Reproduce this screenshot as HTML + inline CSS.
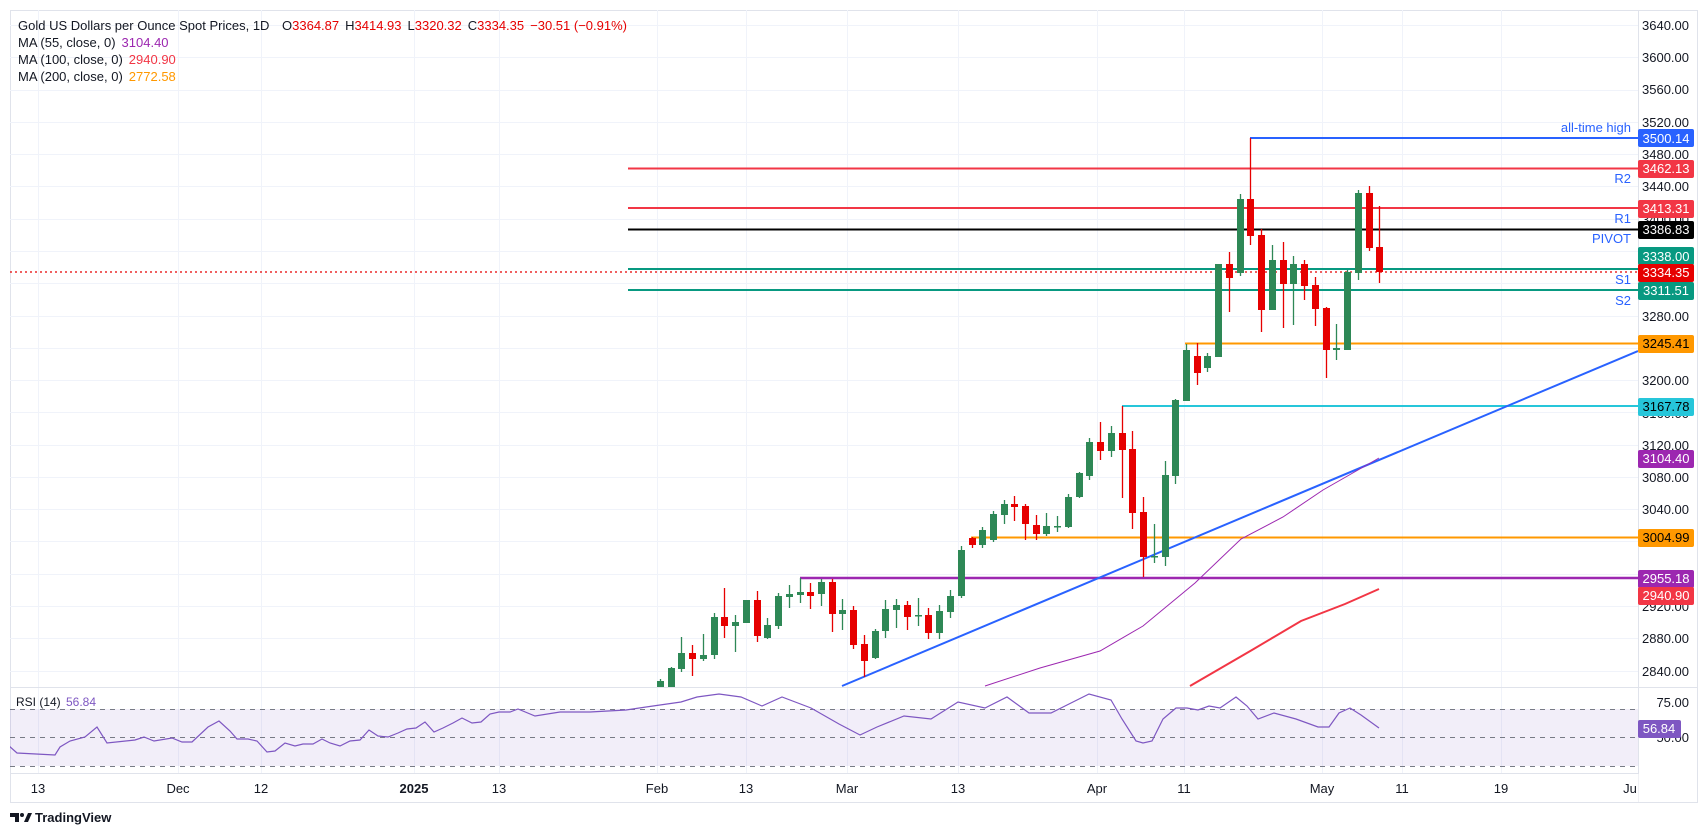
<!DOCTYPE html>
<html><head><meta charset="utf-8"><style>
html,body{margin:0;padding:0;background:#fff;width:1708px;height:837px;overflow:hidden;font-family:"Liberation Sans",sans-serif;}
svg text{font-family:"Liberation Sans",sans-serif;}
</style></head><body>
<svg width="1708" height="837" xmlns="http://www.w3.org/2000/svg">
<defs>
<clipPath id="mp"><rect x="10" y="10" width="1628" height="677"/></clipPath>
<clipPath id="rp"><rect x="10" y="687" width="1628" height="86"/></clipPath>
</defs>
<rect x="10.5" y="10.5" width="1687" height="792" fill="#fff" stroke="#e0e3eb"/>
<g stroke="#f0f3fa" stroke-width="1">
<path d="M10 25.5H1638M10 57.5H1638M10 90.5H1638M10 122.5H1638M10 154.5H1638M10 186.5H1638M10 219.5H1638M10 251.5H1638M10 283.5H1638M10 316.5H1638M10 348.5H1638M10 380.5H1638M10 412.5H1638M10 445.5H1638M10 477.5H1638M10 509.5H1638M10 541.5H1638M10 574.5H1638M10 606.5H1638M10 638.5H1638M10 671.5H1638"/>
<path d="M38.5 10V773M178.5 10V773M261.5 10V773M414.5 10V773M499.5 10V773M657.5 10V773M746.5 10V773M847.5 10V773M958.5 10V773M1097.5 10V773M1184.5 10V773M1322.5 10V773M1402.5 10V773M1501.5 10V773"/>
</g>
<line x1="10" y1="687.5" x2="1697" y2="687.5" stroke="#e0e3eb"/>
<line x1="1638.5" y1="10" x2="1638.5" y2="802" stroke="#e0e3eb"/>
<line x1="10" y1="773.5" x2="1638" y2="773.5" stroke="#e0e3eb"/>
<g clip-path="url(#mp)">
<line x1="1250" y1="138" x2="1638" y2="138" stroke="#2962ff" stroke-width="2"/>
<line x1="628" y1="168.5" x2="1638" y2="168.5" stroke="#f23645" stroke-width="2"/>
<line x1="628" y1="208" x2="1638" y2="208" stroke="#f23645" stroke-width="2"/>
<line x1="628" y1="229.5" x2="1638" y2="229.5" stroke="#000" stroke-width="2"/>
<line x1="628" y1="269" x2="1638" y2="269" stroke="#089981" stroke-width="2"/>
<line x1="628" y1="290" x2="1638" y2="290" stroke="#089981" stroke-width="2"/>
<line x1="10" y1="272" x2="1638" y2="272" stroke="#e60000" stroke-width="1.2" stroke-dasharray="2 3"/>
<line x1="1185" y1="343.5" x2="1638" y2="343.5" stroke="#ff9800" stroke-width="2"/>
<line x1="1122" y1="406" x2="1638" y2="406" stroke="#26c6da" stroke-width="2"/>
<line x1="971" y1="537.5" x2="1638" y2="537.5" stroke="#ff9800" stroke-width="2"/>
<line x1="800" y1="578" x2="1638" y2="578" stroke="#9c27b0" stroke-width="2.5"/>
<line x1="842" y1="686" x2="1638" y2="351" stroke="#2962ff" stroke-width="2"/>
<polyline points="985,686 1040,668 1100,651 1143,626 1195,583 1241,539 1283,517 1323,490 1379,458" fill="none" stroke="#9c27b0" stroke-width="1"/>
<polyline points="1190,686 1252,650 1301,621 1345,604 1379,589" fill="none" stroke="#f23645" stroke-width="2"/>
<g>
<g fill="#2e8856" stroke="#2e8856">
<path d="M660.5 679V687M671.5 667V687M681.5 637V672M703.5 634V661M714.5 613V659M735.5 615V652M746.5 600V623M767.5 618V639M778.5 593V629M789.5 585V608M800.5 578V603M821.5 579V606M842.5 599V630M875.5 629V659M885.5 600V638M896.5 599V628M918.5 598V626M939.5 605V639M950.5 590V618M961.5 546V598M982.5 527V548M993.5 511V542M1004.5 500V524M1046.5 513V536M1057.5 516V532M1068.5 494V528M1079.5 472V498M1089.5 438V480M1111.5 426V457M1154.5 524V563M1165.5 461V566M1175.5 399V484M1186.5 344V401M1207.5 353V372M1218.5 264V357M1240.5 194V276M1272.5 245V310M1293.5 256V325M1336.5 324V360M1347.5 270V350M1358.5 190V280" fill="none" stroke-width="1.3"/>
<g stroke="none">
<rect x="657" y="681" width="7" height="6"/><rect x="668" y="668" width="7" height="19"/><rect x="678" y="653" width="7" height="16"/><rect x="700" y="655" width="7" height="4"/><rect x="711" y="617" width="7" height="38"/><rect x="732" y="622" width="7" height="4"/><rect x="743" y="600" width="7" height="23"/><rect x="764" y="625" width="7" height="13"/><rect x="775" y="596" width="7" height="30"/><rect x="786" y="594" width="7" height="3"/><rect x="797" y="592" width="7" height="3"/><rect x="818" y="582" width="7" height="12"/><rect x="839" y="610" width="7" height="4"/><rect x="872" y="631" width="7" height="27"/><rect x="882" y="609" width="7" height="22"/><rect x="893" y="605" width="7" height="5"/><rect x="915" y="615" width="7" height="1.5"/><rect x="936" y="611" width="7" height="22"/><rect x="947" y="596" width="7" height="16"/><rect x="958" y="550" width="7" height="46"/><rect x="979" y="530" width="7" height="15"/><rect x="990" y="514" width="7" height="26"/><rect x="1001" y="504" width="7" height="11"/><rect x="1043" y="526" width="7" height="8"/><rect x="1054" y="526" width="7" height="1.5"/><rect x="1065" y="497" width="7" height="30"/><rect x="1076" y="473" width="7" height="24"/><rect x="1086" y="442" width="7" height="34"/><rect x="1108" y="433" width="7" height="18"/><rect x="1151" y="556" width="7" height="1.5"/><rect x="1162" y="475" width="7" height="82"/><rect x="1172" y="400" width="7" height="76"/><rect x="1183" y="350" width="7" height="51"/><rect x="1204" y="356" width="7" height="12"/><rect x="1215" y="264" width="7" height="93"/><rect x="1237" y="199" width="7" height="74"/><rect x="1269" y="260" width="7" height="50"/><rect x="1290" y="264" width="7" height="20"/><rect x="1333" y="348" width="7" height="2"/><rect x="1344" y="272" width="7" height="78"/><rect x="1355" y="193" width="7" height="80"/>
</g></g>
<g fill="#e60000" stroke="#e60000">
<path d="M692.5 645V676M724.5 588V638M757.5 591V642M810.5 583V609M832.5 579V632M853.5 606V649M864.5 635V677M907.5 601V630M928.5 608V639M972.5 537V548M1014.5 496V521M1025.5 504V540M1036.5 515V540M1100.5 422V460M1122.5 406V498M1132.5 431V529M1143.5 497V577M1197.5 343V385M1229.5 252V312M1250.5 138V245M1261.5 229V332M1283.5 242V328M1304.5 260V300M1315.5 277V326M1326.5 307V378M1369.5 186V251M1379.5 206V283" fill="none" stroke-width="1.3"/>
<g stroke="none">
<rect x="689" y="653" width="7" height="6"/><rect x="721" y="617" width="7" height="9"/><rect x="754" y="600" width="7" height="36"/><rect x="807" y="592" width="7" height="4"/><rect x="829" y="582" width="7" height="32"/><rect x="850" y="610" width="7" height="35"/><rect x="861" y="644" width="7" height="17"/><rect x="904" y="605" width="7" height="12"/><rect x="925" y="615" width="7" height="18"/><rect x="969" y="538" width="7" height="7"/><rect x="1011" y="504" width="7" height="3"/><rect x="1022" y="506" width="7" height="18"/><rect x="1033" y="525" width="7" height="9"/><rect x="1097" y="442" width="7" height="9"/><rect x="1119" y="433" width="7" height="17"/><rect x="1129" y="449" width="7" height="64"/><rect x="1140" y="512" width="7" height="45"/><rect x="1194" y="356" width="7" height="17"/><rect x="1226" y="264" width="7" height="14"/><rect x="1247" y="199" width="7" height="37"/><rect x="1258" y="235" width="7" height="75"/><rect x="1280" y="260" width="7" height="24"/><rect x="1301" y="264" width="7" height="22"/><rect x="1312" y="285" width="7" height="24"/><rect x="1323" y="308" width="7" height="42"/><rect x="1366" y="193" width="7" height="55"/><rect x="1376" y="247" width="7" height="25"/>
</g></g>
</g>
</g>
<g font-size="13" fill="#2962ff" text-anchor="end">
<text x="1631" y="132">all-time high</text>
<text x="1631" y="183">R2</text>
<text x="1631" y="223">R1</text>
<text x="1631" y="243">PIVOT</text>
<text x="1631" y="284">S1</text>
<text x="1631" y="305">S2</text>
</g>
<g clip-path="url(#rp)">
<rect x="10" y="709" width="1628" height="57" fill="#7e57c2" fill-opacity="0.1"/>
<g stroke="#787b86" stroke-dasharray="5 5" stroke-width="1">
<line x1="10" y1="709.5" x2="1638" y2="709.5"/><line x1="10" y1="737.5" x2="1638" y2="737.5"/><line x1="10" y1="766.5" x2="1638" y2="766.5"/>
</g>
<polyline fill="none" stroke="#7e57c2" stroke-width="1.2" points="8,745 17,753 55,755 60,747 70,741 85,737 97,727 107,743 135,740 144,737 154,741 172,738 182,742 192,742 208,727 219,721 230,731 237,739 248,739 257,741 267,752 275,751 285,743 295,746 303,744 313,744 322,739 330,743 340,746 350,741 360,740 369,730 378,736 388,737 398,733 407,729 416,728 425,722 434,732 443,728 453,723 462,718 472,723 481,722 490,714 499,712 510,712 518,709 535,716 560,712 590,712 626,710 653,706 681,702 697,697 719,694 741,697 762,706 782,697 811,708 839,724 860,735 877,727 904,716 931,719 958,702 985,708 1007,697 1029,713 1051,713 1073,702 1089,694 1111,700 1122,719 1136,741 1143,743 1152,741 1163,719 1176,708 1187,708 1198,710 1209,706 1220,708 1236,697 1247,706 1258,719 1274,713 1296,719 1318,727 1329,727 1339,713 1350,708 1361,715 1379,728"/>
</g>
<text x="16" y="706" font-size="12" fill="#131722">RSI (14)</text>
<text x="66" y="706" font-size="12" fill="#7e57c2">56.84</text>
<g font-size="13" fill="#131722">
<text x="18" y="30">Gold US Dollars per Ounce Spot Prices, 1D</text>
<text x="282" y="30">O<tspan fill="#e60000">3364.87</tspan><tspan dx="6">H</tspan><tspan fill="#e60000">3414.93</tspan><tspan dx="6">L</tspan><tspan fill="#e60000">3320.32</tspan><tspan dx="6">C</tspan><tspan fill="#e60000">3334.35</tspan><tspan dx="6" fill="#e60000">−30.51 (−0.91%)</tspan></text>
<text x="18" y="47">MA (55, close, 0)<tspan dx="6" fill="#9c27b0">3104.40</tspan></text>
<text x="18" y="64">MA (100, close, 0)<tspan dx="6" fill="#f23645">2940.90</tspan></text>
<text x="18" y="81">MA (200, close, 0)<tspan dx="6" fill="#ff9800">2772.58</tspan></text>
</g>
<g font-size="13" fill="#131722" text-anchor="end">
<text x="1689" y="30">3640.00</text><text x="1689" y="62">3600.00</text><text x="1689" y="94">3560.00</text><text x="1689" y="127">3520.00</text><text x="1689" y="159">3480.00</text><text x="1689" y="191">3440.00</text><text x="1689" y="224">3400.00</text><text x="1689" y="321">3280.00</text><text x="1689" y="385">3200.00</text><text x="1689" y="418">3160.00</text><text x="1689" y="450">3120.00</text><text x="1689" y="482">3080.00</text><text x="1689" y="514">3040.00</text><text x="1689" y="611">2920.00</text><text x="1689" y="643">2880.00</text><text x="1689" y="676">2840.00</text>
<text x="1689" y="707">75.00</text><text x="1689" y="742">50.00</text>
</g>
<g font-size="13" text-anchor="middle">
<rect x="1638" y="129" width="56" height="18" rx="2" fill="#2962ff"/><text x="1666" y="143" fill="#fff">3500.14</text>
<rect x="1638" y="160" width="56" height="18" rx="2" fill="#f23645"/><text x="1666" y="173" fill="#fff">3462.13</text>
<rect x="1638" y="200" width="56" height="18" rx="2" fill="#f23645"/><text x="1666" y="213" fill="#fff">3413.31</text>
<rect x="1638" y="221" width="56" height="18" rx="2" fill="#000"/><text x="1666" y="234" fill="#fff">3386.83</text>
<rect x="1638" y="247" width="56" height="18" rx="2" fill="#089981"/><text x="1666" y="261" fill="#fff">3338.00</text>
<rect x="1638" y="264" width="56" height="18" rx="2" fill="#e60000"/><text x="1666" y="277" fill="#fff">3334.35</text>
<rect x="1638" y="282" width="56" height="18" rx="2" fill="#089981"/><text x="1666" y="295" fill="#fff">3311.51</text>
<rect x="1638" y="335" width="56" height="18" rx="2" fill="#ff9800"/><text x="1666" y="348" fill="#000">3245.41</text>
<rect x="1638" y="398" width="56" height="18" rx="2" fill="#26c6da"/><text x="1666" y="411" fill="#000">3167.78</text>
<rect x="1638" y="450" width="56" height="18" rx="2" fill="#9c27b0"/><text x="1666" y="463" fill="#fff">3104.40</text>
<rect x="1638" y="529" width="56" height="18" rx="2" fill="#ff9800"/><text x="1666" y="542" fill="#000">3004.99</text>
<rect x="1638" y="570" width="56" height="18" rx="2" fill="#9c27b0"/><text x="1666" y="583" fill="#fff">2955.18</text>
<rect x="1638" y="587" width="56" height="18" rx="2" fill="#f23645"/><text x="1666" y="600" fill="#fff">2940.90</text>
<rect x="1638" y="720" width="43" height="18" rx="2" fill="#7e57c2"/><text x="1659" y="733" fill="#fff">56.84</text>
</g>
<g font-size="13" fill="#131722" text-anchor="middle">
<text x="38" y="793">13</text><text x="178" y="793">Dec</text><text x="261" y="793">12</text><text x="414" y="793" font-weight="bold">2025</text><text x="499" y="793">13</text><text x="657" y="793">Feb</text><text x="746" y="793">13</text><text x="847" y="793">Mar</text><text x="958" y="793">13</text><text x="1097" y="793">Apr</text><text x="1184" y="793">11</text><text x="1322" y="793">May</text><text x="1402" y="793">11</text><text x="1501" y="793">19</text><text x="1630" y="793">Ju</text>
</g>
<rect x="1638.5" y="774" width="58" height="28" fill="#fff"/>
<g fill="#131722">
<path d="M10 813h9v9h-4v-5h-5z"/><circle cx="22" cy="815" r="2"/><path d="M24 822l4-9h4l-4 9z"/>
<text x="35" y="822" font-size="13" font-weight="bold">TradingView</text>
</g>
</svg>
</body></html>
